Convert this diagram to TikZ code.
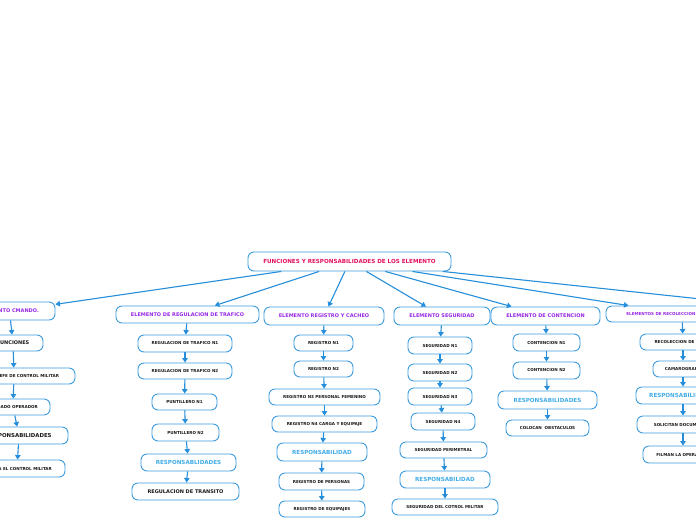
\documentclass[tikz,border=0pt]{standalone}
\usepackage{fontspec}
\setmainfont{DejaVu Sans}
\usetikzlibrary{arrows.meta}
\definecolor{boxblue}{RGB}{60,156,222}
\definecolor{arrowblue}{RGB}{38,142,218}
\definecolor{elempurple}{RGB}{150,40,230}
\definecolor{rootpink}{RGB}{226,18,96}
\definecolor{resptext}{RGB}{64,172,232}
\definecolor{leaftext}{RGB}{25,25,25}
\begin{document}
\begin{tikzpicture}[x=1pt,y=-1pt,
  base/.style={draw=boxblue, fill=white, rounded corners=6pt, line width=0.9pt, inner sep=0pt, align=center},
  wh/.style 2 args={minimum width=#1pt, minimum height=#2pt},
  rootbox/.style={base, text=rootpink, font=\fontsize{5.6}{6}\selectfont\bfseries},
  elem/.style={base, text=elempurple, font=\fontsize{5}{6}\selectfont\bfseries},
  smallelem/.style={base, text=elempurple, font=\fontsize{4.1}{5}\selectfont\bfseries},
  leaf/.style={base, text=leaftext, font=\fontsize{4.1}{5}\selectfont\bfseries},
  big/.style={base, text=leaftext, font=\fontsize{5}{6}\selectfont\bfseries},
  resp/.style={base, text=resptext, font=\fontsize{5.6}{6}\selectfont\bfseries},
  conn/.style={draw=arrowblue, line width=1.1pt, -{Triangle[width=5.5pt,length=4.5pt]}}
]
\clip (0,0) rectangle (696,520);
\fill[white] (0,0) rectangle (696,520);

% root
\node[rootbox, wh={203}{19}] (root) at (349.5,261.5) {FUNCIONES Y RESPONSABILIDADES DE LOS ELEMENTO};

% column 1
\node[elem, wh={91}{18}] (c1) at (9.5,311) {ELEMENTO CMANDO.};
\node[big, wh={60}{16}] (a1) at (13,343) {FUNCIONES};
\node[leaf, wh={122}{16}] (a2) at (14,376) {SUBOFICIAL JEFE DE CONTROL MILITAR};
\node[leaf, wh={74}{16}] (a3) at (13,407) {SOLDADO OPERADOR};
\node[big, font=\fontsize{5.4}{6}\selectfont\bfseries, wh={98}{17}] (a4) at (19,435.5) {RESPONSABILIDADES};
\node[leaf, wh={96}{17}] (a5) at (17,468.5) {REALIZA EL CONTROL MILITAR};

% column 2
\node[elem, wh={143}{17}] (c2) at (187.5,314.5) {ELEMENTO DE REGULACION DE TRAFICO};
\node[leaf, wh={94}{17}] (r1) at (185,343.5) {REGULACION DE TRAFICO N1};
\node[leaf, wh={94}{16}] (r2) at (185,371) {REGULACION DE TRAFICO N2};
\node[leaf, wh={65}{16}] (p1) at (184.5,402) {PUNTILLERO N1};
\node[leaf, wh={67}{17}] (p2) at (185.5,432.5) {PUNTILLERO N2};
\node[resp, wh={95}{17}] (rs2) at (188.5,462.5) {RESPONSABLIDADES};
\node[big, wh={107}{17}] (rt) at (185.5,491.5) {REGULACION DE TRANSITO};

% column 3
\node[elem, wh={120}{18}] (c3) at (324,316) {ELEMENTO REGISTRO Y CACHEO};
\node[leaf, wh={59}{16}] (g1) at (323.5,343) {REGISTRO N1};
\node[leaf, wh={59}{16}] (g2) at (323.5,369) {REGISTRO N2};
\node[leaf, wh={111}{16}] (g3) at (324.5,397) {REGISTRO N3 PERSONAL FEMENINO};
\node[leaf, wh={105}{16}] (g4) at (324.5,424) {REGISTRO N4 CARGA Y EQUIPAJE};
\node[resp, wh={90}{18}] (rs3) at (322,452) {RESPONSABILIDAD};
\node[leaf, wh={85}{17}] (g5) at (321.5,481.5) {REGISTRO DE PERSONAS};
\node[leaf, wh={86}{16}] (g6) at (322,509) {REGISTRO DE EQUIPAJES};

% column 4
\node[elem, wh={96}{18}] (c4) at (442,316) {ELEMENTO SEGURIDAD};
\node[leaf, wh={64}{17}] (s1) at (440,345.5) {SEGURIDAD N1};
\node[leaf, wh={64}{17}] (s2) at (440,372.5) {SEGURIDAD N2};
\node[leaf, wh={64}{17}] (s3) at (440,396.5) {SEGURIDAD N3};
\node[leaf, wh={64}{17}] (s4) at (443,421.5) {SEGURIDAD N4};
\node[leaf, wh={87}{16}] (s5) at (443.5,450) {SEGURIDAD PERIMETRAL};
\node[resp, wh={90}{17}] (rs4) at (445,479.5) {RESPONSABILIDAD};
\node[leaf, wh={106}{16}] (s6) at (445,507) {SEGURIDAD DEL COTROL MILITAR};

% column 5
\node[elem, wh={109}{18}] (c5) at (545.5,316) {ELEMENTO DE CONTENCION};
\node[leaf, wh={67}{17}] (t1) at (546.5,342.5) {CONTENCION N1};
\node[leaf, wh={67}{17}] (t2) at (546.5,370.5) {CONTENCION N2};
\node[resp, wh={99}{18}] (rs5) at (547.5,400) {RESPONSABILIDADES};
\node[leaf, wh={83}{16}] (t3) at (547.5,428) {COLOCAN\ \ OBSTACULOS};

% column 6
\node[smallelem, wh={152}{16}] (c6) at (682,314) {ELEMENTOS DE RECOLECCION DE INFORMACION};
\node[leaf, wh={86}{16}] (e1) at (683,342) {RECOLECCION DE DATOS};
\node[leaf, wh={60}{16}] (e2) at (683,369) {CAMAROGRAFO};
\node[resp, wh={94}{17}] (rs6) at (683,395.5) {RESPONSABILIDADES};
\node[leaf, wh={92}{17}] (e3) at (683,424.5) {SOLICITAN DOCUMENTOS};
\node[leaf, wh={80}{17}] (e4) at (683,454.5) {FILMAN LA OPERACION};

% off-page element target
\coordinate (c7) at (860,316);

% root connectors
\foreach \t in {c1,c2,c3,c4,c5,c6,c7} \draw[conn] (root) -- (\t);

% column connectors
\draw[conn] (c1) -- (a1); \draw[conn] (a1) -- (a2); \draw[conn] (a2) -- (a3);
\draw[conn] (a3) -- (a4); \draw[conn] (a4) -- (a5);
\draw[conn] (c2) -- (r1); \draw[conn] (r1) -- (r2); \draw[conn] (r2) -- (p1);
\draw[conn] (p1) -- (p2); \draw[conn] (p2) -- (rs2); \draw[conn] (rs2) -- (rt);
\draw[conn] (c3) -- (g1); \draw[conn] (g1) -- (g2); \draw[conn] (g2) -- (g3);
\draw[conn] (g3) -- (g4); \draw[conn] (g4) -- (rs3); \draw[conn] (rs3) -- (g5);
\draw[conn] (g5) -- (g6);
\draw[conn] (c4) -- (s1); \draw[conn] (s1) -- (s2); \draw[conn] (s2) -- (s3);
\draw[conn] (s3) -- (s4); \draw[conn] (s4) -- (s5); \draw[conn] (s5) -- (rs4);
\draw[conn] (rs4) -- (s6);
\draw[conn] (c5) -- (t1); \draw[conn] (t1) -- (t2); \draw[conn] (t2) -- (rs5);
\draw[conn] (rs5) -- (t3);
\draw[conn] (c6) -- (e1); \draw[conn] (e1) -- (e2); \draw[conn] (e2) -- (rs6);
\draw[conn] (rs6) -- (e3); \draw[conn] (e3) -- (e4);
\end{tikzpicture}
\end{document}
